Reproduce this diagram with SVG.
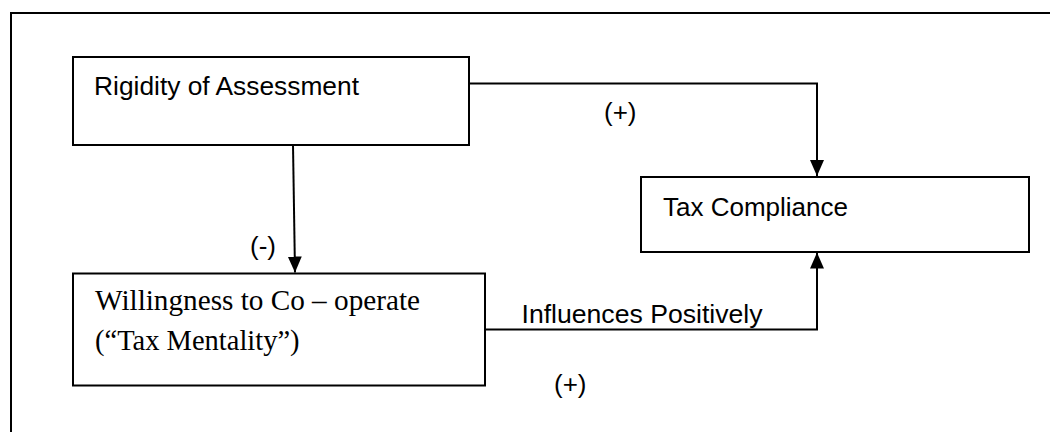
<svg xmlns="http://www.w3.org/2000/svg" width="1050" height="432" viewBox="0 0 1050 432">
<style>
.box{fill:#fff;stroke:#000;stroke-width:2}
.frame{fill:none;stroke:#000;stroke-width:2}
.sans{font-family:"Liberation Sans",Arial,sans-serif;font-size:26px;fill:#000}
.serif{font-family:"Liberation Serif","Times New Roman",serif;font-size:28.5px;fill:#000}
.conn{fill:none;stroke:#000;stroke-width:2}
</style>
<defs>
<marker id="arr" viewBox="0 0 16 16" refX="16" refY="8" markerWidth="16" markerHeight="16" markerUnits="userSpaceOnUse" orient="auto">
<path d="M0,1 L16,8 L0,15 Z" fill="#000"/>
</marker>
</defs>
<rect width="1050" height="432" fill="#fff"/>
<rect class="frame" x="11" y="13" width="1100" height="500"/>
<g id="connectors">
<path class="conn" d="M469,83.5 H817 V176" marker-end="url(#arr)"/>
<path class="conn" d="M293,145 L295,272.5" marker-end="url(#arr)"/>
<path class="conn" d="M485,329.5 H817 V252.5" marker-end="url(#arr)"/>
<text class="sans" x="604" y="121">(+)</text>
<text class="sans" x="250" y="255">(-)</text>
<text class="sans" x="521.5" y="323" textLength="241" lengthAdjust="spacingAndGlyphs">Influences Positively</text>
<text class="sans" x="554" y="393">(+)</text>
</g>
<g id="rigidity">
<rect class="box" x="73" y="57" width="396" height="88"/>
<text class="sans" x="94" y="95" textLength="265" lengthAdjust="spacingAndGlyphs">Rigidity of Assessment</text>
</g>
<g id="compliance">
<rect class="box" x="641" y="177" width="388" height="75"/>
<text class="sans" x="663" y="216" textLength="185" lengthAdjust="spacingAndGlyphs">Tax Compliance</text>
</g>
<g id="willingness">
<rect class="box" x="73" y="273.5" width="412" height="112"/>
<text class="serif" x="95" y="310" textLength="325" lengthAdjust="spacingAndGlyphs">Willingness to Co – operate</text>
<text class="serif" x="95" y="350">(“Tax Mentality”)</text>
</g>
</svg>
